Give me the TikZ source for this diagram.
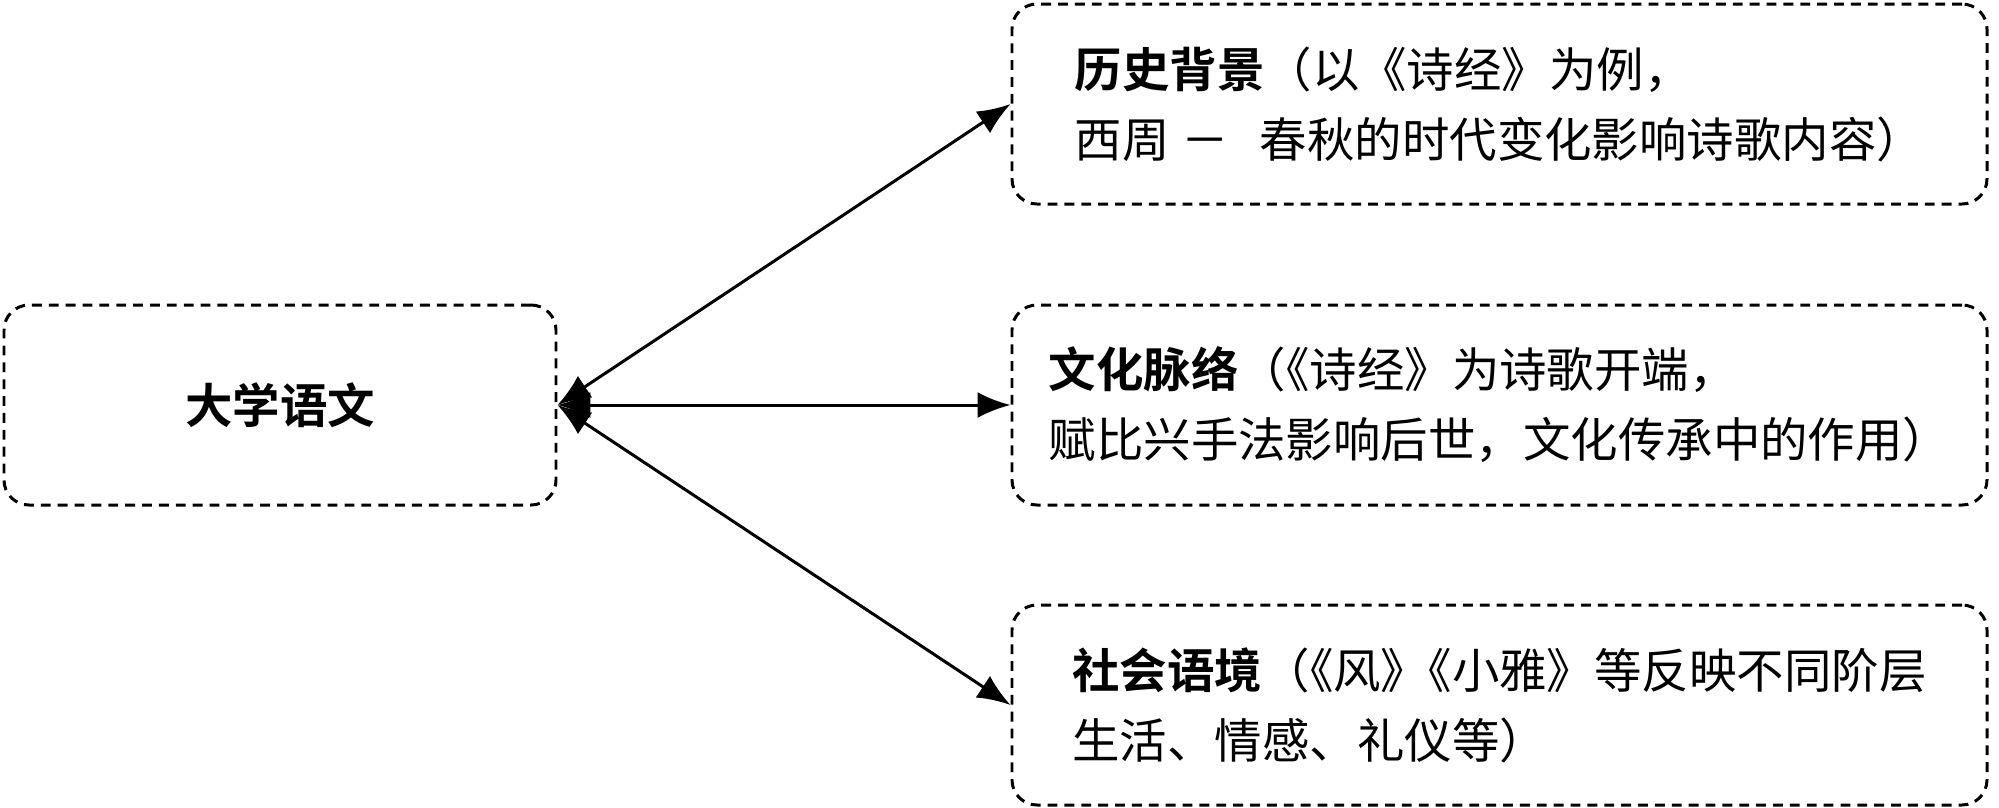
\documentclass[tikz,border=0pt]{standalone}
\usepackage{fontspec}
\setmainfont{Noto Sans CJK SC}[BoldFont={Noto Sans CJK SC Bold}]
\newfontfamily\halfpunct{Noto Sans CJK SC}[RawFeature=+halt]
\usetikzlibrary{arrows.meta}

\begin{document}
\begin{tikzpicture}[
	box/.style={draw, line width=0.85pt, dash pattern=on 2.8pt off 2pt, rounded corners=0.25cm,
		minimum height=2cm, align=left, font=\fontsize{13.5}{19.9}\selectfont},
	link/.style={line width=0.85pt, {Latex[length=0.33cm,width=0.26cm]}-{Latex[length=0.33cm,width=0.26cm]}}
	]
	\useasboundingbox (0,0) rectangle (19.99,-8.07);
	\node[box, minimum width=5.52cm] (yuwen) at (2.80,-4.05) {\textbf{大学语文}};
	\node[box, minimum width=9.75cm] (beijing) at (14.995,-1.04)
		{\textbf{历史背景}（以《诗经》为例，\\西周\hspace{0.25em}－\hspace{0.65em}春秋的时代变化影响诗歌内容）};
	\node[box, minimum width=9.75cm] (wenhua) at (14.995,-4.05)
		{\textbf{文化脉络}（{\halfpunct 《}诗经》为诗歌开端，\\赋比兴手法影响后世，文化传承中的作用）};
	\node[box, minimum width=9.75cm] (shehui) at (14.995,-7.05)
		{\textbf{社会语境}（{\halfpunct 《}风》{\halfpunct 《}小雅》等反映不同阶层\\生活、情感、礼仪等）};
	\draw[link] (yuwen.east) -- (beijing.west);
	\draw[link] (yuwen.east) -- (wenhua.west);
	\draw[link] (yuwen.east) -- (shehui.west);
\end{tikzpicture}
\end{document}
